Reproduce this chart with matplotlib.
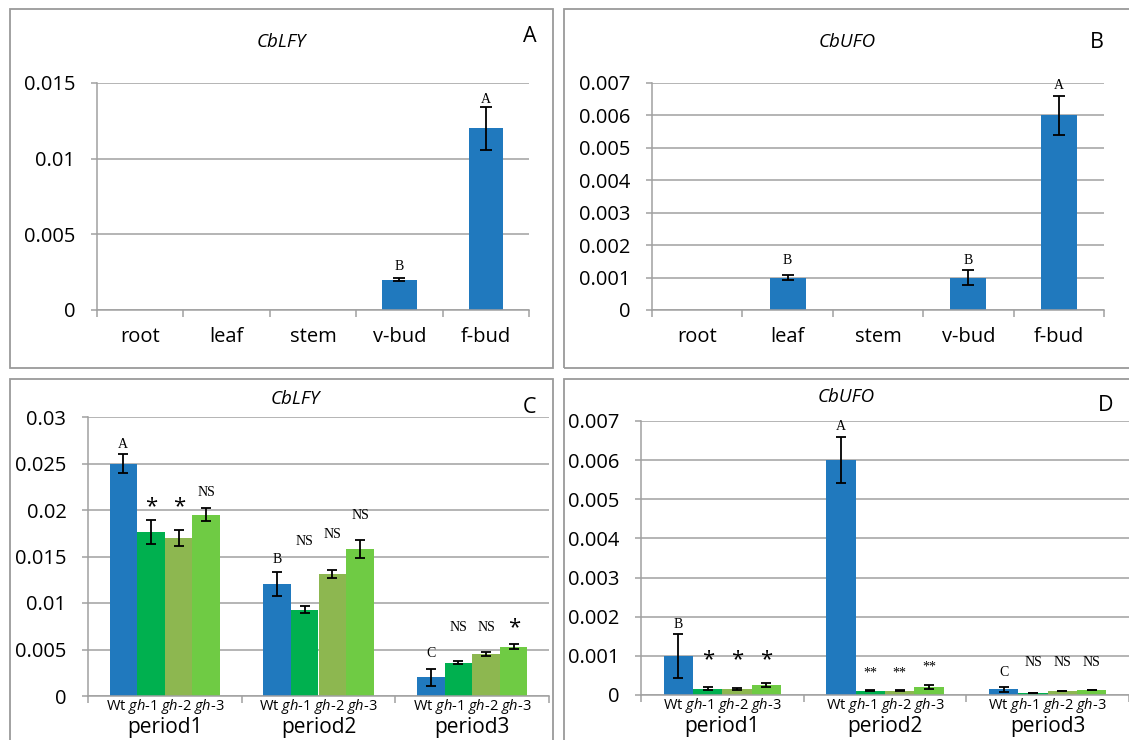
import matplotlib.pyplot as plt
import numpy as np
from matplotlib.patches import Rectangle

plt.switch_backend('Agg')

# ---- data ----
tissues = ['root', 'leaf', 'stem', 'v-bud', 'f-bud']
lfy_tissue = [0, 0, 0, 0.002, 0.012]
lfy_tissue_err = [0, 0, 0, 0.0001, 0.0014]
lfy_tissue_marks = ['', '', '', 'B', 'A']
lfy_tissue_mark_y = [0, 0, 0, 0.0029, 0.0139]

ufo_tissue = [0, 0.001, 0, 0.001, 0.006]
ufo_tissue_err = [0, 0.00008, 0, 0.00022, 0.0006]
ufo_tissue_marks = ['', 'B', '', 'B', 'A']
ufo_tissue_mark_y = [0, 0.00152, 0, 0.00152, 0.00692]

periods = ['period1', 'period2', 'period3']
genotypes = ['Wt', 'gh-1', 'gh-2', 'gh-3']

# rows = genotype, columns = period
lfy_means = [[0.0250, 0.0120, 0.0020],
             [0.0176, 0.0093, 0.0036],
             [0.0170, 0.0131, 0.0045],
             [0.0195, 0.0158, 0.0053]]
lfy_errs = [[0.0010, 0.0013, 0.0009],
            [0.0013, 0.0004, 0.00015],
            [0.0009, 0.0004, 0.00025],
            [0.0007, 0.0010, 0.00027]]
lfy_marks = [['A', 'B', 'C'],
             ['*', 'NS', 'NS'],
             ['*', 'NS', 'NS'],
             ['NS', 'NS', '*']]
lfy_mark_y = [[0.0270, 0.0147, 0.0046],
              [0.0203, 0.0166, 0.0074],
              [0.0203, 0.0174, 0.0074],
              [0.0219, 0.0194, 0.0073]]

ufo_means = [[0.00100, 0.00600, 0.000145],
             [0.000155, 0.00011, 0.00005],
             [0.000150, 0.00011, 0.00010],
             [0.000255, 0.00020, 0.00013]]
ufo_errs = [[0.00057, 0.00059, 0.00007],
            [0.00004, 0.00002, 0.00001],
            [0.00003, 0.00002, 0.00001],
            [0.00005, 0.00005, 0.00001]]
ufo_marks = [['B', 'A', 'C'],
             ['*', '**', 'NS'],
             ['*', '**', 'NS'],
             ['*', '**', 'NS']]
ufo_mark_y = [[0.00179, 0.00686, 0.00057],
              [0.00091, 0.00055, 0.00084],
              [0.00091, 0.00055, 0.00083],
              [0.00091, 0.00072, 0.00084]]

# ---- style ----
plt.rcParams['font.family'] = ['Open Sans', 'DejaVu Sans']
plt.rcParams['mathtext.fontset'] = 'custom'
plt.rcParams['mathtext.rm'] = 'Open Sans'
plt.rcParams['mathtext.it'] = 'Open Sans:italic'

BLUE = '#2079be'
COLORS = [BLUE, '#00b04f', '#8db750', '#6fcb44']
GRID = '#a0a0a0'
FRAME = '#9a9a9a'

W, H = 1129, 740
fig = plt.figure(figsize=(W / 100, H / 100), dpi=100)


def px_axes(left, top, right, bottom):
    return fig.add_axes([left / W, 1 - bottom / H, (right - left) / W, (bottom - top) / H])


def frame(left, top, right, bottom):
    fig.add_artist(Rectangle((left / W, 1 - bottom / H), (right - left) / W, (bottom - top) / H,
                             transform=fig.transFigure, fill=False, edgecolor=FRAME, lw=1.3))


def px_text(x, y, s, **kw):
    fig.text(x / W, 1 - y / H, s, ha='center', va='center', **kw)


def style_axes(ax, ymax, step, n):
    ax.set_ylim(0, ymax)
    ticks = np.arange(0, ymax + step / 2, step)
    ax.set_yticks(ticks)
    ax.set_yticklabels([f'{t:g}' for t in ticks])
    ax.yaxis.grid(True, color=GRID, lw=1.1)
    ax.set_axisbelow(True)
    for s in ['top', 'right']:
        ax.spines[s].set_visible(False)
    for s in ['left', 'bottom']:
        ax.spines[s].set_color(GRID)
        ax.spines[s].set_linewidth(1.1)
    ax.tick_params(axis='y', length=4.5, width=1.1, color=GRID, labelsize=14.5, pad=11)
    ax.set_xlim(-0.5, n - 0.5)
    ax.set_xticks(np.arange(-0.5, n), minor=True)
    ax.tick_params(axis='x', which='minor', length=5, width=1.1, color=GRID)
    ax.tick_params(axis='x', which='major', length=0)


def mark(ax, x, y, s):
    if s == '*':
        ax.text(x, y, s, ha='center', va='center', fontsize=16, fontfamily='Open Sans')
    else:
        ax.text(x, y, s, ha='center', va='center', fontsize=10, fontfamily='Liberation Serif')


def tissue_panel(ax, vals, errs, marks, mark_y, ymax, step):
    style_axes(ax, ymax, step, len(tissues))
    x = np.arange(len(tissues))
    ax.bar(x, vals, width=0.4, color=BLUE)
    vals = np.array(vals)
    errs = np.array(errs)
    m = errs > 0
    ax.errorbar(x[m], vals[m], yerr=errs[m], fmt='none', ecolor='black',
                elinewidth=1.3, capsize=4, capthick=1.3)
    for xi, s, y in zip(x, marks, mark_y):
        if s:
            mark(ax, xi, y, s)
    ax.set_xticks(x)
    ax.set_xticklabels(tissues, fontsize=14.5)
    ax.tick_params(axis='x', which='major', pad=12)


def period_panel(ax, means, errs, marks, mark_y, ymax, step):
    style_axes(ax, ymax, step, len(periods))
    x = np.arange(len(periods))
    w = 0.18
    for j in range(len(genotypes)):
        xs = x + (j - 1.5) * w
        ax.bar(xs, means[j], width=w, color=COLORS[j])
        ax.errorbar(xs, means[j], yerr=errs[j], fmt='none', ecolor='black',
                    elinewidth=1.3, capsize=3.5, capthick=1.3)
        for xi, s, y in zip(xs, marks[j], mark_y[j]):
            mark(ax, xi, y, s)
    ax.set_xticks(x)
    ax.set_xticklabels([])
    sub = 'Wt ' + ' '.join(r'$\mathit{gh}$' + g[2:] for g in genotypes[1:])
    for i, p in enumerate(periods):
        ax.annotate(sub, xy=(i, 0), xycoords=('data', 'axes fraction'), xytext=(0, -7.5),
                    textcoords='offset points', ha='center', va='center', fontsize=10.5,
                    annotation_clip=False)
        ax.annotate(p, xy=(i, 0), xycoords=('data', 'axes fraction'), xytext=(0, -22.5),
                    textcoords='offset points', ha='center', va='center', fontsize=15,
                    annotation_clip=False)


# panel frames
frame(9.5, 9.5, 553, 367.5)
frame(564, 9.5, 1140, 367.5)
frame(9.5, 379, 553, 760)
frame(564, 379, 1140, 760)

# A
axA = px_axes(97, 83, 529, 310)
tissue_panel(axA, lfy_tissue, lfy_tissue_err, lfy_tissue_marks, lfy_tissue_mark_y, 0.015, 0.005)
px_text(281, 42, 'CbLFY', fontsize=13.5, style='italic')
px_text(530, 36, 'A', fontsize=15.5)

# B
axB = px_axes(652, 83, 1104, 310)
tissue_panel(axB, ufo_tissue, ufo_tissue_err, ufo_tissue_marks, ufo_tissue_mark_y, 0.007, 0.001)
px_text(847, 42, 'CbUFO', fontsize=13.5, style='italic')
px_text(1097, 43, 'B', fontsize=15.5)

# C
axC = px_axes(88, 417, 549, 696)
period_panel(axC, lfy_means, lfy_errs, lfy_marks, lfy_mark_y, 0.03, 0.005)
px_text(295, 399, 'CbLFY', fontsize=13.5, style='italic')
px_text(530, 407, 'C', fontsize=15.5)

# D
axD = px_axes(641, 421, 1129, 695)
period_panel(axD, ufo_means, ufo_errs, ufo_marks, ufo_mark_y, 0.007, 0.001)
px_text(846, 397, 'CbUFO', fontsize=13.5, style='italic')
px_text(1106, 406, 'D', fontsize=15.5)

fig.savefig('out.png', dpi=100)
plt.close(fig)
